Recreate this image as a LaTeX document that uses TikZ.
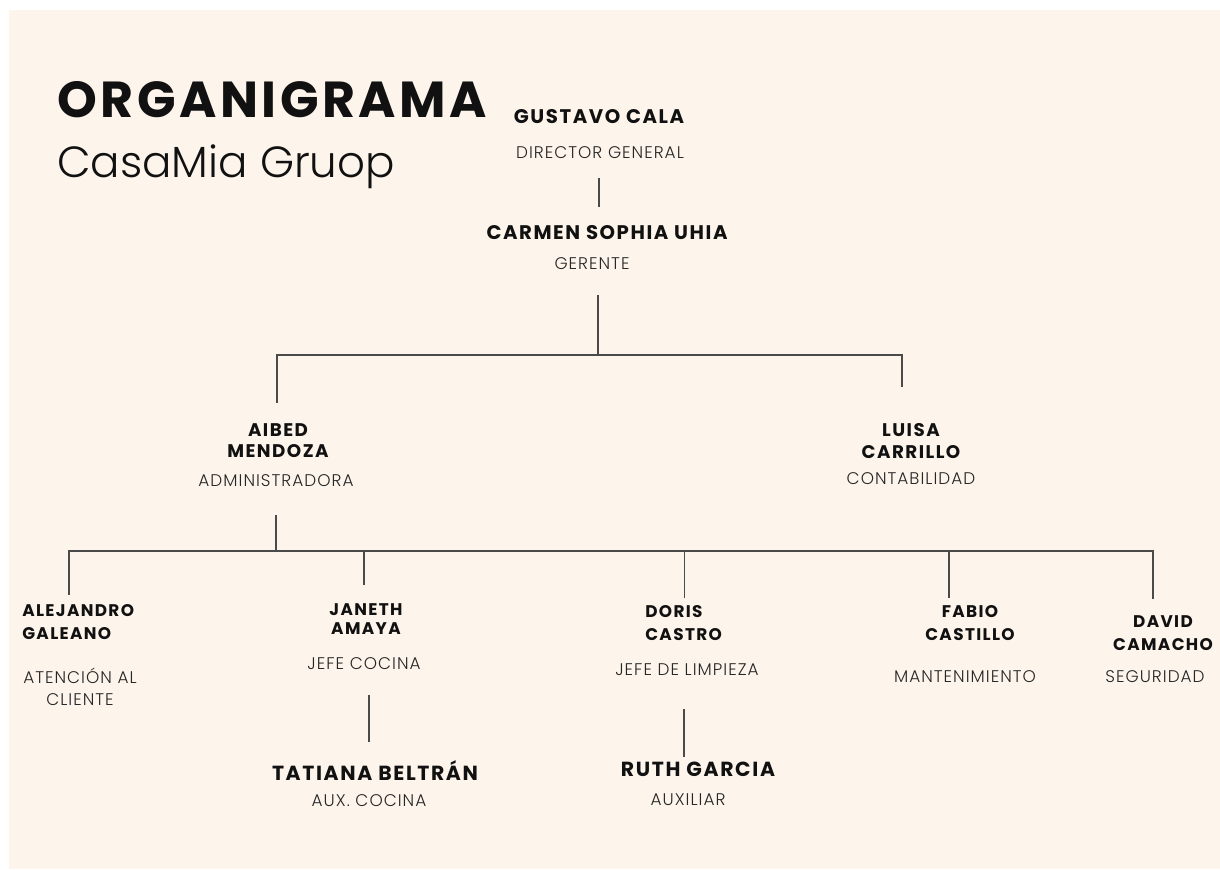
\documentclass[tikz,border=0pt]{standalone}
\usepackage{fontspec}
\setmainfont{Poppins}
\newfontfamily\namefont{Poppins}[LetterSpace=8]
\newfontfamily\titlefont{Poppins}[LetterSpace=7]
\newfontfamily\lightfont{Poppins Light}[LetterSpace=6]
\newfontfamily\firmfont{Poppins Light}
\usepackage{tikz}
\usetikzlibrary{calc}
\definecolor{paper}{HTML}{FDF5EB}
\definecolor{inkOne}{HTML}{111111}
\definecolor{inkTwo}{HTML}{262626}
\definecolor{lineC}{HTML}{4A4A4A}
\tikzset{
  boss/.style={font=\namefont\fontsize{14}{16}\selectfont\bfseries, text=inkOne, inner sep=0pt, align=center},
  chief/.style={font=\namefont\fontsize{13}{15}\selectfont\bfseries, text=inkOne, inner sep=0pt, align=center},
  staff/.style={font=\namefont\fontsize{12}{16.4}\selectfont\bfseries, text=inkOne, inner sep=0pt, align=center},
  role/.style={font=\lightfont\fontsize{12}{15.6}\selectfont, text=inkTwo, inner sep=0pt, align=center},
  link/.style={draw=lineC, line width=0.85pt},
}

\begin{document}
\begin{tikzpicture}[x=0.025cm, y=-0.025cm]
  \useasboundingbox (0,0) rectangle (1220,869);
  \fill[paper] (9,10) rectangle (1220,869);
  % ---- heading
  \node[anchor=base west, inner sep=0pt, font=\titlefont\fontsize{36}{40}\selectfont\bfseries, text=inkOne] (title) at (57,117) {ORGANIGRAMA};
  \node[anchor=base west, inner sep=0pt, font=\firmfont\fontsize{31}{36}\selectfont, text=inkOne] (firm) at (57,177) {CasaMia Gruop};
  % ---- top of the chart
  \node[boss] (nGustavo) at (599,117) {GUSTAVO CALA};
  \node[role] (rGustavo) at (600,153) {DIRECTOR GENERAL};
  \node[boss] (nCarmen) at (607,233) {CARMEN SOPHIA UHIA};
  \node[role] (rCarmen) at (592,264) {GERENTE};
  \draw[link] (rGustavo) ++(-1,25) -- ++(0,29);
  % ---- second level
  \node[chief] (nAibed) at (278,441) {AIBED\\MENDOZA};
  \node[role] (rAibed) at (276,481) {ADMINISTRADORA};
  \node[chief] (nLuisa) at (911,441) {LUISA\\CARRILLO};
  \node[role] (rLuisa) at (911,479) {CONTABILIDAD};
  \draw[link] (rCarmen) ++(6,31) -- ++(0,60) coordinate (busA);
  \draw[link] ($(nAibed)+(-1,-38)$) |- (busA) -| ($(nLuisa)+(-9,-54)$);
  % ---- staff under the administration
  \node[staff, anchor=west, align=left] (nAlejandro) at (22,622) {ALEJANDRO\\GALEANO};
  \node[role] (rAlejandro) at (80,687) {ATENCIÓN AL\\CLIENTE};
  \node[staff, font=\namefont\fontsize{12}{14}\selectfont\bfseries] (nJaneth) at (366,619) {JANETH\\AMAYA};
  \node[role] (rJaneth) at (364,664) {JEFE COCINA};
  \node[staff, anchor=west, align=left] (nDoris) at (645,623) {DORIS\\CASTRO};
  \node[role] (rDoris) at (687,670) {JEFE DE LIMPIEZA};
  \node[staff] (nFabio) at (970,623) {FABIO\\CASTILLO};
  \node[role] (rFabio) at (965,677) {MANTENIMIENTO};
  \node[staff] (nDavid) at (1163,633) {DAVID\\CAMACHO};
  \node[role] (rDavid) at (1155,677) {SEGURIDAD};
  \draw[link] (rAibed) ++(0,34) -- ++(0,36) coordinate (busB);
  \draw[link] ($(nAlejandro.west)+(47,-27)$) |- (busB) -| ($(nDavid)+(-10,-34)$);
  \draw[link] (nJaneth) ++(-2,-34) -- ++(0,-34);
  \draw[link] (nDoris) ++(1,-25) -- ++(0,-48);
  \draw[link] (nFabio) ++(-21,-25) -- ++(0,-48);
  % ---- third level
  \node[boss, font=\namefont\fontsize{14.5}{17}\selectfont\bfseries] (nTatiana) at (375,771) {TATIANA BELTRÁN};
  \node[role] (rTatiana) at (369,801) {AUX. COCINA};
  \node[boss, font=\namefont\fontsize{14.5}{17}\selectfont\bfseries] (nRuth) at (698,769) {RUTH GARCIA};
  \node[role] (rRuth) at (688,800) {AUXILIAR};
  \draw[link] (rJaneth) ++(5,31) -- ++(0,47);
  \draw[link] (rDoris) ++(-3,39) -- ++(0,48);
\end{tikzpicture}
\end{document}
